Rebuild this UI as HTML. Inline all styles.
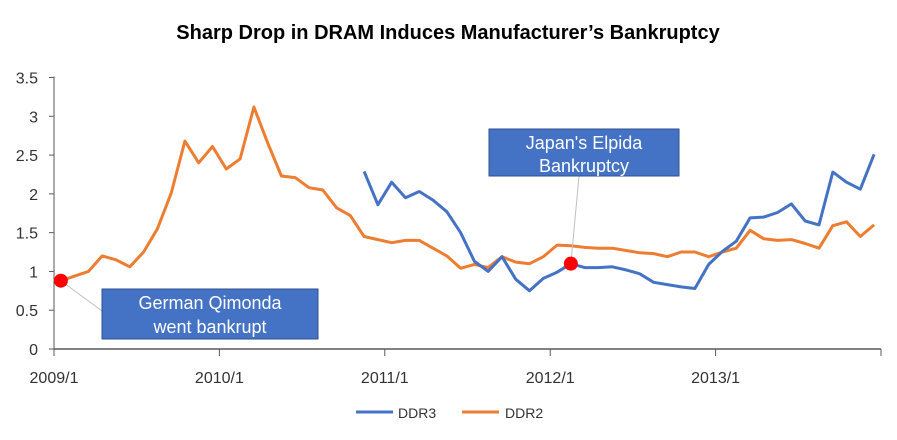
<!DOCTYPE html>
<html><head><meta charset="utf-8"><style>
body{margin:0;background:#fff;}
svg{display:block;font-family:"Liberation Sans","Noto Sans CJK SC",sans-serif;}
</style></head><body>
<svg id="chart" width="897" height="440">
<rect width="897" height="440" fill="#fff"/>
<text x="448" y="39" text-anchor="middle" font-size="20" font-weight="bold" fill="#000">Sharp Drop in DRAM Induces Manufacturer’s Bankruptcy</text>
<g id="axes"></g>
<g id="series"></g>
<g id="annot"></g>
<g>
<line x1="356" y1="412" x2="393" y2="412" stroke="#4472C4" stroke-width="3"/>
<text x="398" y="418" font-size="14" fill="#333">DDR3</text>
<line x1="462" y1="412" x2="499" y2="412" stroke="#ED7D31" stroke-width="3"/>
<text x="505" y="418" font-size="14" fill="#333">DDR2</text>
</g>
</svg>
<script>
const yTicks=[0,0.5,1,1.5,2,2.5,3,3.5];
const yTickLabels=["0","0.5","1","1.5","2","2.5","3","3.5"];
const xTickLabels=["2009/1","2010/1","2011/1","2012/1","2013/1"];
const ddr2=[0.88,0.94,1.00,1.20,1.15,1.06,1.25,1.55,2.01,2.68,2.40,2.61,2.32,2.45,3.12,2.66,2.23,2.21,2.08,2.05,1.82,1.72,1.45,1.41,1.37,1.40,1.40,1.30,1.20,1.04,1.09,1.05,1.19,1.12,1.10,1.19,1.34,1.33,1.31,1.30,1.30,1.27,1.24,1.23,1.19,1.25,1.25,1.19,1.25,1.30,1.53,1.42,1.40,1.41,1.36,1.30,1.59,1.64,1.45,1.60];
const ddr3=[null,null,null,null,null,null,null,null,null,null,null,null,null,null,null,null,null,null,null,null,null,null,2.29,1.86,2.15,1.95,2.03,1.92,1.77,1.50,1.13,1.00,1.19,0.90,0.75,0.91,0.99,1.10,1.05,1.05,1.06,1.02,0.97,0.86,0.83,0.80,0.78,1.09,1.26,1.39,1.69,1.70,1.76,1.87,1.65,1.60,2.28,2.15,2.06,2.51];
const NS="http://www.w3.org/2000/svg";
const x0=54,x1=881,yBase=349,yTop=77.5,n=60;
const step=(x1-x0)/n;
const xs=i=>x0+(i+0.5)*step;
const ys=v=>yBase-(v/3.5)*(yBase-yTop);
function mk(tag,attrs,parent){const e=document.createElementNS(NS,tag);for(const k in attrs)e.setAttribute(k,attrs[k]);parent.appendChild(e);return e;}
const axes=document.getElementById('axes');
let e=mk('line',{x1:x0,y1:yTop-1,x2:x0,y2:yBase,stroke:'#595959','stroke-width':1},axes);


yTicks.forEach((v,k)=>{
 const t=mk('line',{x1:x0-5,y1:ys(v),x2:x0,y2:ys(v),stroke:'#595959'},axes);
 
 
 const l=mk('text',{x:38,y:ys(v)+6,'text-anchor':'end','font-size':16,fill:'#333'},axes);
 l.textContent=yTickLabels[k];
 
 
});
e=mk('line',{x1:x0,y1:yBase,x2:x1,y2:yBase,stroke:'#595959','stroke-width':1.5},axes);


for(let k=0;k<=5;k++){
 const x=x0+k*12*step;
 const t=mk('line',{x1:x,y1:yBase,x2:x,y2:yBase+7,stroke:'#595959'},axes);
 
 
 if(k<xTickLabels.length){
  const l=mk('text',{x:x,y:383,'text-anchor':'middle','font-size':16,fill:'#333'},axes);
  l.textContent=xTickLabels[k];
  
  
 }
}
const ser=document.getElementById('series');
function path(arr){let d='',pen=false;arr.forEach((v,i)=>{if(v==null){pen=false;return;}d+=(pen?'L':'M')+xs(i).toFixed(1)+','+ys(v).toFixed(1);pen=true;});return d;}
let p=mk('path',{d:path(ddr2),fill:'none',stroke:'#ED7D31','stroke-width':3,'stroke-linejoin':'round'},ser);


p=mk('path',{d:path(ddr3),fill:'none',stroke:'#4472C4','stroke-width':3,'stroke-linejoin':'round'},ser);


const an=document.getElementById('annot');
const d1x=xs(0),d1y=ys(ddr2[0]),d2x=xs(37),d2y=ys(ddr3[37]);
e=mk('line',{x1:d1x,y1:d1y,x2:102,y2:311,stroke:'#bfbfbf'},an);


e=mk('line',{x1:d2x,y1:d2y,x2:579,y2:176,stroke:'#bfbfbf'},an);


e=mk('circle',{cx:d1x,cy:d1y,r:7,fill:'#FF0000'},an);


e=mk('circle',{cx:d2x,cy:d2y,r:7,fill:'#FF0000'},an);


e=mk('rect',{x:102,y:289,width:216,height:50,fill:'#4472C4',stroke:'#2F528F'},an);


[["German Qimonda",309],["went bankrupt",333]].forEach(([s,y])=>{const t=mk('text',{x:210,y:y,'text-anchor':'middle','font-size':18,fill:'#fff'},an);t.textContent=s;
 
 });
e=mk('rect',{x:489,y:129,width:190,height:47,fill:'#4472C4',stroke:'#2F528F'},an);


[["Japan's Elpida",149],["Bankruptcy",172]].forEach(([s,y])=>{const t=mk('text',{x:584,y:y,'text-anchor':'middle','font-size':18,fill:'#fff'},an);t.textContent=s;
 
 });
</script>
</body></html>
